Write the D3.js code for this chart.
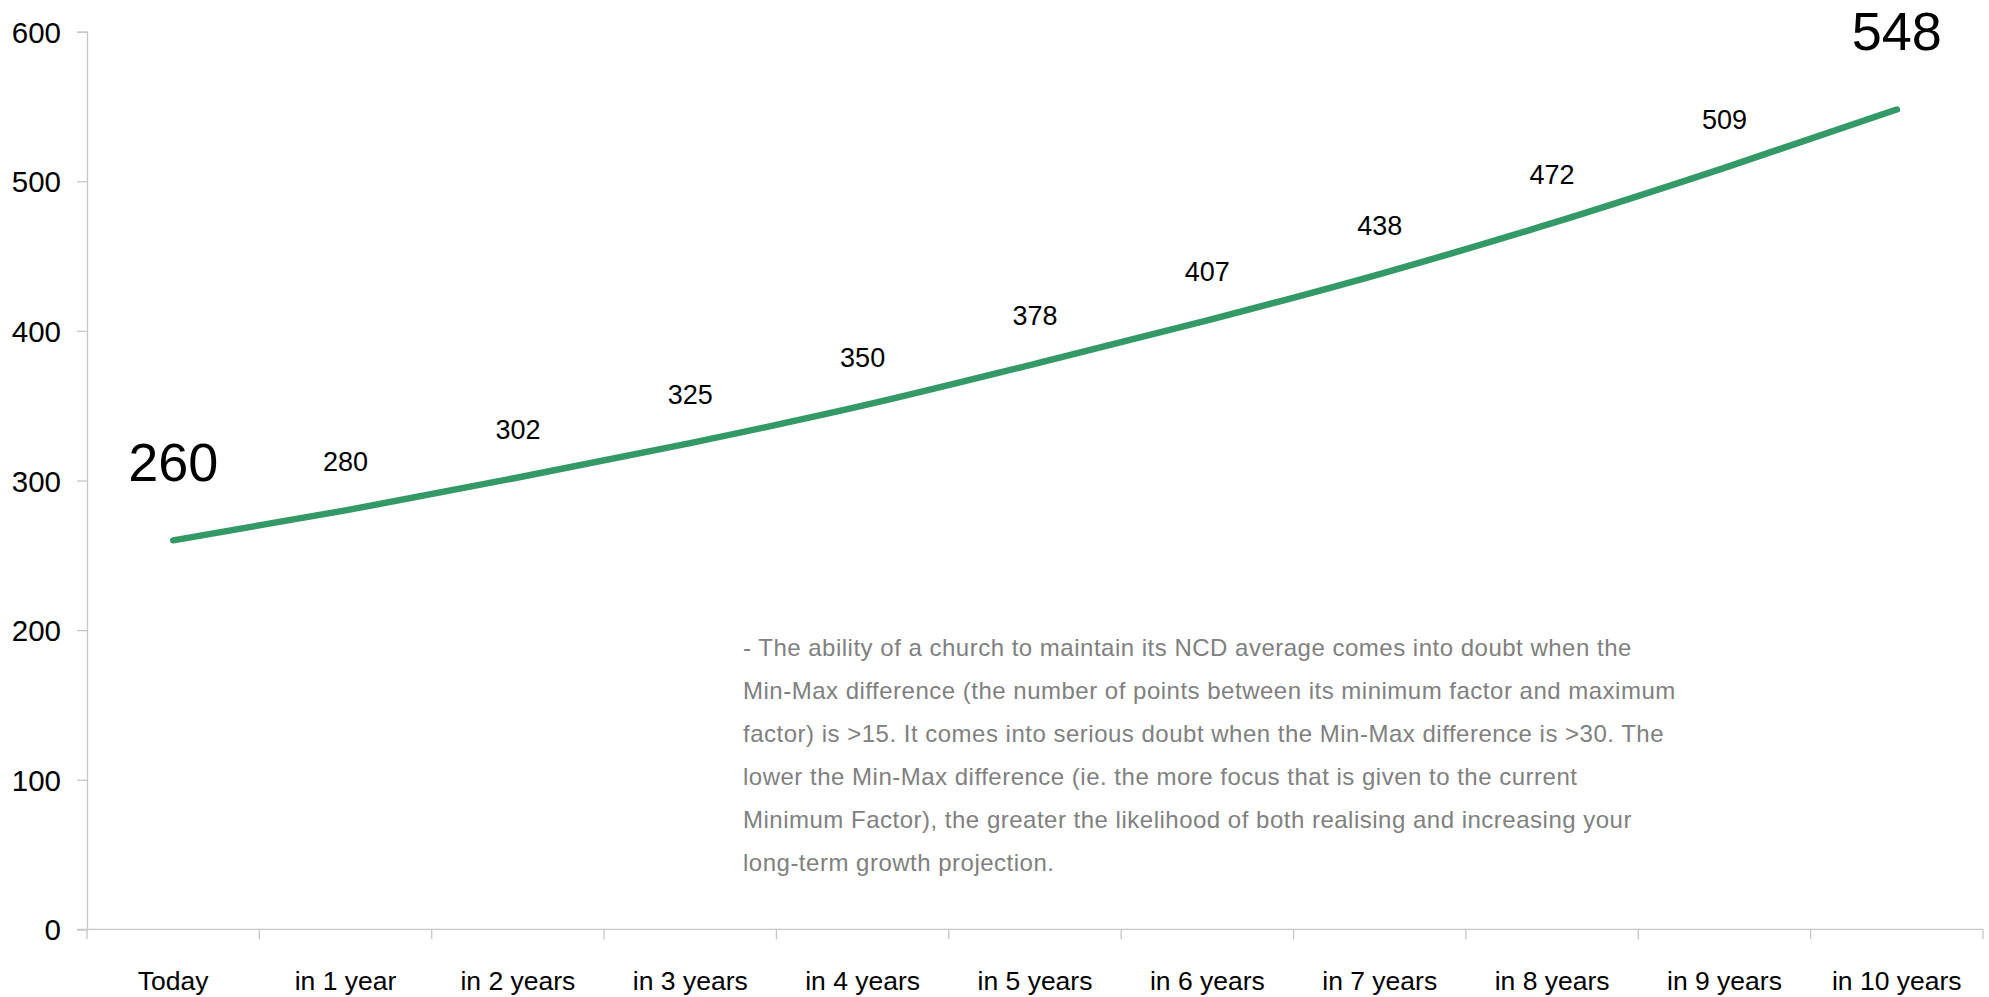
<!DOCTYPE html>
<html>
<head>
<meta charset="utf-8">
<script src="https://cdn.jsdelivr.net/npm/d3@7"></script>
<style>
  html, body { margin: 0; padding: 0; background: #fff; }
  svg { display: block; }
  text { font-family: "Liberation Sans", Arial, sans-serif; }
</style>
</head>
<body>
<svg id="chart" width="1989" height="997"></svg>
<script>
const categories = ["Today", "in 1 year", "in 2 years", "in 3 years", "in 4 years", "in 5 years",
                    "in 6 years", "in 7 years", "in 8 years", "in 9 years", "in 10 years"];
const values = [260, 280, 302, 325, 350, 378, 407, 438, 472, 509, 548];
const yTicks = [0, 100, 200, 300, 400, 500, 600];
const noteLines = [
  "- The ability of a church to maintain its NCD average comes into doubt when the",
  "Min-Max difference (the number of points between its minimum factor and maximum",
  "factor) is >15. It comes into serious doubt when the Min-Max difference is >30. The",
  "lower the Min-Max difference (ie. the more focus that is given to the current",
  "Minimum Factor), the greater the likelihood of both realising and increasing your",
  "long-term growth projection."
];

const W = 1989, H = 997;
const margin = {left: 87, right: 6, top: 31.7, bottom: 67.7};
const svg = d3.select("#chart");

const x = d3.scaleBand().domain(categories).range([margin.left, W - margin.right]).padding(0);
const y = d3.scaleLinear().domain([0, 600]).range([H - margin.bottom, margin.top]);
const axisColor = "#c6c6c6";

// Y axis
const yAxis = svg.append("g").attr("transform", `translate(${margin.left},0)`)
  .call(d3.axisLeft(y).tickValues(yTicks).tickSize(10).tickPadding(16).tickFormat(d3.format("d")));
yAxis.select(".domain").attr("stroke", axisColor).attr("stroke-width", 1.3);
yAxis.selectAll(".tick line").attr("stroke", axisColor).attr("stroke-width", 1.3);
yAxis.selectAll(".tick text").attr("fill", "#000").attr("font-size", 29.5)
  .attr("font-family", "Liberation Sans, Arial, sans-serif").attr("dy", "0.36em");

// X axis: boundary ticks between categories
const xAxisG = svg.append("g").attr("transform", `translate(0,${y(0)})`);
xAxisG.append("line").attr("x1", margin.left - 10).attr("x2", W - margin.right)
  .attr("stroke", axisColor).attr("stroke-width", 1.3);
const bounds = categories.map(c => x(c)).concat([x(categories[categories.length - 1]) + x.bandwidth()]);
xAxisG.selectAll("line.tk").data(bounds).join("line").attr("class", "tk")
  .attr("x1", d => d).attr("x2", d => d).attr("y1", 0).attr("y2", 10)
  .attr("stroke", axisColor).attr("stroke-width", 1.3);
xAxisG.selectAll("text.lbl").data(categories).join("text").attr("class", "lbl")
  .attr("x", d => x(d) + x.bandwidth() / 2).attr("y", 61)
  .attr("text-anchor", "middle").attr("font-size", 26.5).attr("fill", "#000")
  .text(d => d);

// Line
const cx = (c) => x(c) + x.bandwidth() / 2;
const data = categories.map((c, i) => ({c, v: values[i]}));
const line = d3.line().x(d => cx(d.c)).y(d => y(d.v)).curve(d3.curveMonotoneX);
svg.append("path").datum(data).attr("d", line)
  .attr("fill", "none").attr("stroke", "#339966").attr("stroke-width", 6.5)
  .attr("stroke-linecap", "round").attr("stroke-linejoin", "round");

// Data labels
svg.selectAll("text.dl").data(data).join("text").attr("class", "dl")
  .attr("x", d => cx(d.c))
  .attr("y", (d, i) => (i === 0 || i === data.length - 1) ? y(d.v) - 59 : y(d.v) - 39)
  .attr("text-anchor", "middle")
  .attr("font-size", (d, i) => (i === 0 || i === data.length - 1) ? 54 : 27)
  .attr("fill", "#000")
  .text(d => d.v);

// Annotation
const note = svg.append("text").attr("x", 743).attr("y", 656)
  .attr("font-size", 24).attr("letter-spacing", 0.5).attr("fill", "#808080");
note.selectAll("tspan").data(noteLines).join("tspan")
  .attr("x", 743).attr("y", (d, i) => 656 + i * 42.9).text(d => d);
</script>
</body>
</html>
